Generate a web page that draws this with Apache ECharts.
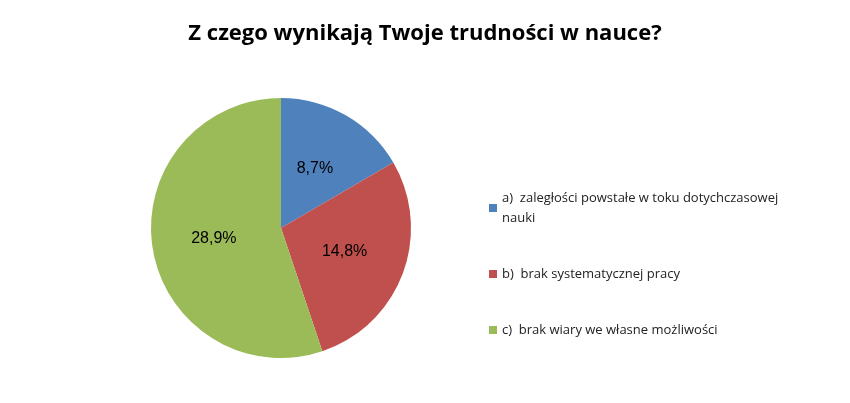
<!DOCTYPE html>
<html>
<head>
<meta charset="utf-8">
<script src="https://cdn.jsdelivr.net/npm/echarts@6/dist/echarts.min.js"></script>
<style>html,body{margin:0;padding:0;background:#fff}#main{width:850px;height:403px}</style>
</head>
<body>
<div id="main"></div>
<script>
var categories = ['a)  zaległości powstałe w toku dotychczasowej\nnauki', 'b)  brak systematycznej pracy', 'c)  brak wiary we własne możliwości'];
var values = [8.7, 14.8, 28.9];
var colors = ['#4F81BD', '#C0504D', '#9BBB59'];

var chart = echarts.init(document.getElementById('main'));
chart.setOption({
    animation: false,
    title: {
        text: 'Z czego wynikają Twoje trudności w nauce?',
        left: 'center', top: 18,
        textStyle: { fontFamily: 'Open Sans', fontWeight: 'bold', fontSize: 22, color: '#000' }
    },
    legend: {
        orient: 'vertical', left: 484, top: 183, itemGap: 36,
        itemWidth: 8, itemHeight: 8, icon: 'rect',
        data: categories,
        textStyle: { fontFamily: 'Open Sans', fontSize: 13, color: '#222', lineHeight: 20 }
    },
    series: [{
        type: 'pie',
        center: [281, 228], radius: 130,
        startAngle: 90, clockwise: true,
        label: {
            position: 'inside',
            formatter: function (p) { return p.value.toFixed(1).replace('.', ',') + '%'; },
            fontFamily: 'Liberation Sans', fontSize: 16, color: '#000'
        },
        labelLine: { show: false },
        data: categories.map(function (c, i) {
            return { name: c, value: values[i], itemStyle: { color: colors[i] } };
        })
    }]
});
</script>
</body>
</html>
